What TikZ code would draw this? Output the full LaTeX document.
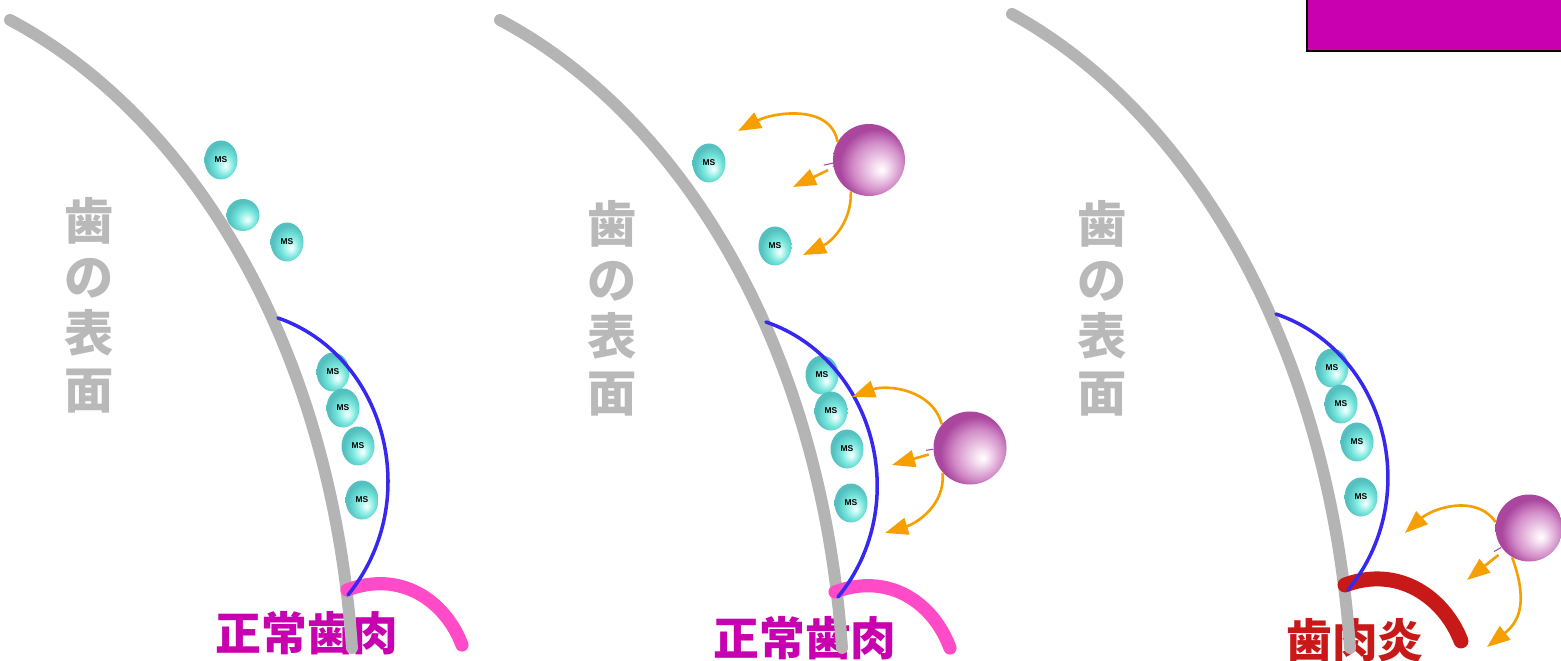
\documentclass[tikz,border=0pt]{standalone}
\usepackage{fontspec}
\setsansfont{Liberation Sans}
\newfontfamily\jp{Noto Sans CJK JP}
\usepackage{tikz}
\usetikzlibrary{positioning}
\usetikzlibrary{shapes.geometric,arrows.meta}

\definecolor{toothgray}{RGB}{180,180,180}
\definecolor{labelgray}{RGB}{185,185,185}
\definecolor{lineblue}{RGB}{55,40,240}
\definecolor{gumpink}{RGB}{255,75,200}
\definecolor{gumred}{RGB}{200,25,25}
\definecolor{labelmag}{RGB}{200,0,176}
\definecolor{pushorange}{RGB}{245,160,0}
\definecolor{msdark}{RGB}{85,192,192}
\definecolor{msmid}{RGB}{115,228,218}
\definecolor{mslight}{RGB}{210,251,247}
\definecolor{wbcdark}{RGB}{170,70,158}
\definecolor{wbcmid}{RGB}{210,140,200}
\definecolor{wbclight}{RGB}{248,230,244}

\pgfdeclareradialshading{msshade}{\pgfpoint{7bp}{-8bp}}{color(0bp)=(white); color(4bp)=(mslight); color(15bp)=(msmid); color(25bp)=(msdark); color(50bp)=(msdark)}
\pgfdeclareradialshading{wbcshade}{\pgfpoint{9bp}{-7bp}}{color(0bp)=(white); color(4bp)=(wbclight); color(17bp)=(wbcmid); color(25bp)=(wbcdark); color(50bp)=(wbcdark)}

\begin{document}
\begin{tikzpicture}[x=0.2mm,y=0.2mm,
    tooth/.style={draw=toothgray,line width=6.8pt,line cap=round},
    plaque/.style={draw=lineblue,line width=2pt,line cap=round},
    gum/.style={draw=gumpink,line width=7.5pt,line cap=round},
    ms/.style={ellipse,minimum width=6.6mm,minimum height=7.8mm,inner sep=0pt,
      shade,shading=msshade,font=\sffamily\bfseries\fontsize{4.8}{5}\selectfont},
    wbc/.style={circle,minimum size=14.6mm,inner sep=0pt,shade,shading=wbcshade},
    stub/.style={draw=wbcdark,line width=0.6pt},
    push/.style={draw=pushorange,line width=1.5pt,-{Triangle[length=4.6mm,width=3.4mm]}},
    surface/.style={text=labelgray,align=center,font=\jp\bfseries\fontsize{28}{32}\selectfont},
    gumlabel/.style={text=labelmag,font=\jp\bfseries\fontsize{26}{28}\selectfont}]

  \useasboundingbox (0,0) rectangle (1561,-661);

  \fill[labelmag,draw=black,line width=1.2pt] (1307,-51) rectangle (1575,10);

  % labels
  \node[surface] (surfa) at (89,-305) {歯\\の\\表\\面};
  \node[surface] (surfb) at (612,-308) {歯\\の\\表\\面};
  \node[surface] (surfc) at (1102,-308) {歯\\の\\表\\面};
  \node[gumlabel] (gluma) at (307,-633) {正常歯肉};
  \node[gumlabel] (glumb) at (805,-638) {正常歯肉};
  \node[gumlabel,text=gumred] (glumc) at (1355,-640) {歯肉炎};

  % tooth surfaces
  \draw[tooth] (10,-20) .. controls (180,-110) and (330,-330) .. (352,-648);
  \draw[tooth] (500,-20) .. controls (670,-110) and (820,-330) .. (842,-648);
  \draw[tooth] (1012,-14) .. controls (1180,-106) and (1328,-330) .. (1350,-648);

  % bacteria
  \node[ms] (msa1) at (221,-160) {MS};
  \node[ms,minimum height=6.4mm] (msa2) at (243,-215) {};
  \node[ms] (msa3) at (287,-242) {MS};
  \node[ms] (msa4) at (333,-372) {MS};
  \node[ms] (msa5) at (343,-408) {MS};
  \node[ms] (msa6) at (358,-446) {MS};
  \node[ms] (msa7) at (362,-500) {MS};

  \node[ms] (msb1) at (709,-163) {MS};
  \node[ms] (msb2) at (775,-246) {MS};
  \node[ms] (msb3) at (822,-375) {MS};
  \node[ms] (msb4) at (831,-411) {MS};
  \node[ms] (msb5) at (847,-449) {MS};
  \node[ms] (msb6) at (851,-503) {MS};

  \node[ms] (msc1) at (1332,-368) {MS};
  \node[ms] (msc2) at (1341,-404) {MS};
  \node[ms] (msc3) at (1357,-442) {MS};
  \node[ms] (msc4) at (1361,-497) {MS};

  % white cells
  \node[wbc,minimum size=14.4mm] (wbcb1) at (869,-160) {};
  \node[wbc] (wbcb2) at (970,-448) {};
  \node[wbc,minimum size=13.4mm] (wbcc) at (1529,-528) {};

  % gums
  \draw[gum] (347,-590) .. controls (400,-570) and (445,-600) .. (462,-645);
  \draw[gum] (835,-592) .. controls (888,-572) and (933,-602) .. (950,-648);
  \draw[gum,draw=gumred,line width=8.5pt] (1345,-585) .. controls (1398,-565) and (1444,-597) .. (1461,-641);

  \draw[plaque] (278,-318) .. controls (385,-355) and (425,-500) .. (348,-595);
  \draw[plaque] (766,-322) .. controls (874,-359) and (914,-504) .. (838,-597);
  \draw[plaque] (1276,-314) .. controls (1385,-351) and (1425,-496) .. (1348,-590);

  % attacks
  \coordinate (tb1) at (738,-131);
  \coordinate (tb2) at (793,-187);
  \coordinate (tb3) at (803,-255);
  \coordinate (tb4) at (852,-397);
  \coordinate (tb5) at (892,-465);
  \coordinate (tb6) at (885,-533);
  \coordinate (tc1) at (1405,-533);
  \coordinate (tc2) at (1467,-580);
  \coordinate (tc3) at (1487,-647);

  \draw[stub] (wbcb1.185) -- ++(-9,-2);
  \draw[stub] (wbcb2.182) -- ++(-7,-1);
  \draw[stub] (wbcc.215) -- ++(-7,-4);

  \draw[push] (wbcb1.150) to[out=100,in=28] (tb1);
  \draw[push,shorten <=1.2mm] (wbcb1.192) -- (tb2);
  \draw[push] (wbcb1.240) to[out=-88,in=25] (tb3);
  \draw[push] (wbcb2.140) to[out=105,in=20] (tb4);
  \draw[push,shorten <=1mm] (wbcb2.188) -- (tb5);
  \draw[push] (wbcb2.222) to[out=-85,in=17] (tb6);
  \draw[push] (wbcc.170) to[out=125,in=42] (tc1);
  \draw[push,shorten <=1.4mm] (wbcc.222) -- (tc2);
  \draw[push] (wbcc.240) to[out=-70,in=38,looseness=1.2] (tc3);

\end{tikzpicture}
\end{document}
